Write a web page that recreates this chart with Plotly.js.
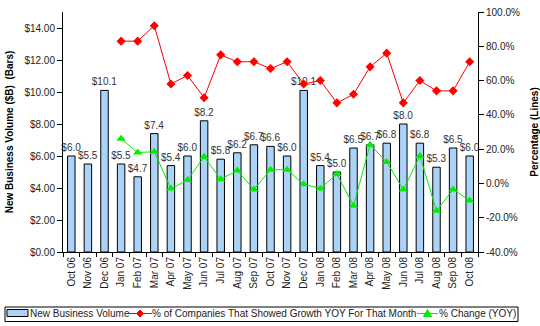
<!DOCTYPE html>
<html>
<head>
<meta charset="utf-8">
<script src="https://cdn.plot.ly/plotly-3.0.1.min.js"></script>
<style>html,body{margin:0;padding:0;background:#fff;}#chart{width:540px;height:326px;}</style>
</head>
<body>
<div id="chart"></div>
<script>
const months = ["Oct 06","Nov 06","Dec 06","Jan 07","Feb 07","Mar 07","Apr 07","May 07","Jun 07","Jul 07","Aug 07","Sep 07","Oct 07","Nov 07","Dec 07","Jan 08","Feb 08","Mar 08","Apr 08","May 08","Jun 08","Jul 08","Aug 08","Sep 08","Oct 08"];
const volume = [6.0,5.5,10.1,5.5,4.7,7.4,5.4,6.0,8.2,5.8,6.2,6.7,6.6,6.0,10.1,5.4,5.0,6.5,6.7,6.8,8.0,6.8,5.3,6.5,6.0];
const growthShare = [null,null,null,83,83,92,58,63,50,75,71,71,67,71,58,60,47,52,68,76,47,60,54,54,71];
const yoyChange = [null,null,null,26,18,18.5,-3,2,15.5,2.5,7.5,-3.5,8,8,-0.5,-3,5.5,-13,22.5,12.5,-3.5,16,-16,-3.5,-10];
const leftTicks = [0,2,4,6,8,10,12,14];
const rightTicks = [-40,-20,0,20,40,60,80,100];
const rightTickText = ["-40.0%","-20.0%","0.0%","20.0%","40.0%","60.0%","80.0%","100.0%"];
const seriesNames = ["New Business Volume","% of Companies That Showed Growth YOY For That Month","% Change (YOY)"];

const FF = "Liberation Sans, Arial, sans-serif";
const barColor = "#abd3f8", redColor = "#ff0000", greenColor = "#00ee00";

// plot area in pixels: l=63, w=415, t=12, h=240
const L = 63, W = 415, T = 12, H = 240;
const px = x => (x - L) / W;
const py = y => (T + H - y) / H;

const traces = [
  {
    type: "bar", name: seriesNames[0], x: months, y: volume,
    marker: {color: barColor, line: {color: "#000", width: 1}},
    texttemplate: "$%{y:.1f}", textposition: "outside", constraintext: "none",
    cliponaxis: false, textfont: {family: FF, size: 10, color: "#333"}
  },
  {
    type: "scatter", mode: "lines+markers", name: seriesNames[1],
    x: months, y: growthShare, yaxis: "y2", cliponaxis: false,
    line: {color: redColor, width: 1}, marker: {symbol: "diamond", size: 7, color: redColor}
  },
  {
    type: "scatter", mode: "lines+markers", name: seriesNames[2],
    x: months, y: yoyChange, yaxis: "y2", cliponaxis: false,
    line: {color: greenColor, width: 1}, marker: {symbol: "triangle-up", size: 8, color: greenColor}
  }
];

const legY = 313.5;
const shapes = [
  {type: "rect", xref: "paper", yref: "paper", x0: px(5), x1: px(518), y0: py(307), y1: py(321.5), line: {color: "#000", width: 1}, fillcolor: "rgba(0,0,0,0)"},
  {type: "rect", xref: "paper", yref: "paper", x0: px(7), x1: px(28), y0: py(309.5), y1: py(316.5), line: {color: "#000", width: 1}, fillcolor: barColor},
  {type: "line", xref: "paper", yref: "paper", x0: px(129), x1: px(152), y0: py(legY), y1: py(legY), line: {color: redColor, width: 1}},
  {type: "path", xref: "paper", yref: "paper", xsizemode: "pixel", ysizemode: "pixel", xanchor: px(140), yanchor: py(legY),
   path: "M -3.5 0 L 0 3.5 L 3.5 0 L 0 -3.5 Z", fillcolor: redColor, line: {color: redColor, width: 1}},
  {type: "line", xref: "paper", yref: "paper", x0: px(417), x1: px(438), y0: py(legY), y1: py(legY), line: {color: greenColor, width: 1}},
  {type: "path", xref: "paper", yref: "paper", xsizemode: "pixel", ysizemode: "pixel", xanchor: px(427.5), yanchor: py(legY),
   path: "M -4 -3 L 4 -3 L 0 4 Z", fillcolor: greenColor, line: {color: greenColor, width: 1}}
];

const legTextX = [30, 152, 439];
const annotations = seriesNames.map((n, i) => ({
  text: n, xref: "paper", yref: "paper", x: px(legTextX[i] - 2), y: py(legY), xanchor: "left", yanchor: "middle",
  showarrow: false, font: {family: FF, size: 10, color: "#222"}
}));

const layout = {
  width: 540, height: 326,
  margin: {l: L, r: 540 - L - W, t: T, b: 326 - T - H},
  paper_bgcolor: "#fff", plot_bgcolor: "#fff",
  font: {family: FF, size: 10, color: "#222"},
  showlegend: false,
  bargap: 0.55,
  xaxis: {
    type: "category", range: [-0.5, months.length - 0.5], tickangle: -90, tickson: "boundaries", ticks: "outside", ticklen: 4,
    showline: true, linecolor: "#000", linewidth: 1, showgrid: false, tickcolor: "#000",
    tickfont: {family: FF, size: 10, color: "#222"}, automargin: false
  },
  yaxis: {
    range: [0, 15], tickvals: leftTicks, tickformat: "$,.2f",
    ticks: "outside", ticklen: 5, tickcolor: "#000", showline: true, linecolor: "#000",
    showgrid: false, zeroline: false, automargin: false,
    tickfont: {family: FF, size: 10, color: "#222"},
    title: {text: "New Business Volume ($B)  (Bars)", font: {family: FF, size: 10, color: "#000", weight: "bold"}, standoff: 8}
  },
  yaxis2: {
    overlaying: "y", side: "right", range: [-40, 100], tickvals: rightTicks, ticktext: rightTickText,
    ticks: "outside", ticklen: 5, tickcolor: "#000", showline: true, linecolor: "#000",
    showgrid: false, zeroline: false, automargin: false,
    tickfont: {family: FF, size: 10, color: "#222"},
    title: {text: "Percentage (Lines)", font: {family: FF, size: 10, color: "#000", weight: "bold"}, standoff: 14}
  },
  shapes: shapes,
  annotations: annotations
};

Plotly.newPlot("chart", traces, layout, {displayModeBar: false, staticPlot: true});
</script>
</body>
</html>
